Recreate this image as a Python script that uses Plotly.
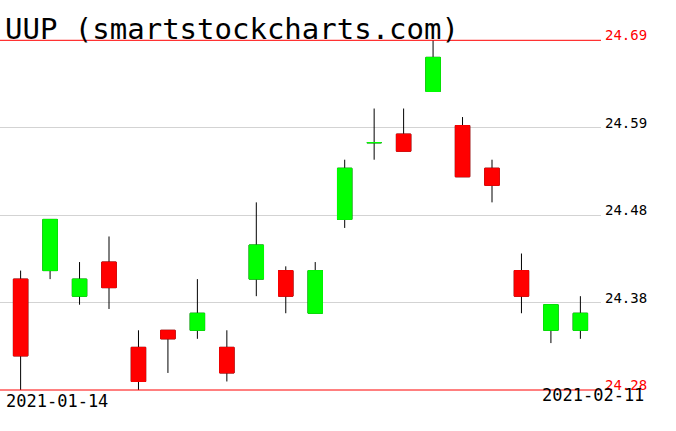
import plotly.graph_objects as go

# ---- data ----
dates = ["2021-01-14", "2021-01-15", "2021-01-19", "2021-01-20", "2021-01-21",
         "2021-01-22", "2021-01-25", "2021-01-26", "2021-01-27", "2021-01-28",
         "2021-01-29", "2021-02-01", "2021-02-02", "2021-02-03", "2021-02-04",
         "2021-02-05", "2021-02-08", "2021-02-09", "2021-02-10", "2021-02-11"]
opens = [24.41, 24.42, 24.39, 24.43, 24.33, 24.35, 24.35, 24.33, 24.41, 24.42,
         24.37, 24.48, 24.57, 24.58, 24.63, 24.59, 24.54, 24.42, 24.35, 24.35]
highs = [24.42, 24.48, 24.43, 24.46, 24.35, 24.35, 24.41, 24.35, 24.50, 24.425,
         24.43, 24.55, 24.61, 24.61, 24.69, 24.60, 24.55, 24.44, 24.38, 24.39]
lows = [24.28, 24.41, 24.38, 24.375, 24.28, 24.30, 24.34, 24.29, 24.39, 24.37,
        24.37, 24.47, 24.55, 24.56, 24.63, 24.53, 24.50, 24.37, 24.335, 24.34]
closes = [24.32, 24.48, 24.41, 24.40, 24.29, 24.34, 24.37, 24.30, 24.45, 24.39,
          24.42, 24.54, 24.57, 24.56, 24.67, 24.53, 24.52, 24.39, 24.38, 24.37]

tick_values = [24.28, 24.3825, 24.485, 24.5875, 24.69]
tick_labels = ["24.28", "24.38", "24.48", "24.59", "24.69"]
title_text = "UUP (smartstockcharts.com)"
x_labels = ["2021-01-14", "2021-02-11"]

# ---- layout geometry ----
W, H = 676, 431
L, R, T, B = 0, 75, 30, 31
PW, PH = W - L - R, H - T - B
GREEN, RED = "#00ff00", "#ff0000"
FONT = "DejaVu Sans Mono"

lo, hi = tick_values[0], tick_values[-1]
px_per_unit = 852.9
y_range = [lo - 10 / px_per_unit, hi + 10.3 / px_per_unit]


def xp(px):
    return (px - L) / PW


def yp(py):
    return (H - B - py) / PH


body_hi = [max(o, c) for o, c in zip(opens, closes)]
body_lo = [min(o, c) for o, c in zip(opens, closes)]

fig = go.Figure()
# full candles: black wicks
fig.add_trace(go.Candlestick(
    x=dates, open=opens, high=highs, low=lows, close=closes,
    increasing=dict(line=dict(color="black", width=1), fillcolor=GREEN),
    decreasing=dict(line=dict(color="black", width=1), fillcolor=RED),
    whiskerwidth=0, showlegend=False, hoverinfo="skip"))
# bodies redrawn with outline matching fill
fig.add_trace(go.Candlestick(
    x=dates, open=opens, high=body_hi, low=body_lo, close=closes,
    increasing=dict(line=dict(color=GREEN, width=1), fillcolor=GREEN),
    decreasing=dict(line=dict(color=RED, width=1), fillcolor=RED),
    whiskerwidth=0, showlegend=False, hoverinfo="skip"))

shapes = []
for v in (lo, hi):
    shapes.append(dict(type="line", xref="paper", yref="y", x0=0, x1=1,
                       y0=v, y1=v, line=dict(color=RED, width=1), layer="above"))

annotations = []
for i, (v, t) in enumerate(zip(tick_values, tick_labels)):
    col = RED if i in (0, len(tick_values) - 1) else "black"
    annotations.append(dict(text=t, xref="paper", yref="y", x=xp(603), y=v,
                            xanchor="left", yanchor="bottom", showarrow=False,
                            yshift=-5, font=dict(family=FONT, size=14, color=col)))

annotations.append(dict(text=title_text, xref="paper", yref="paper",
                        x=xp(3), y=yp(29), xanchor="left", yanchor="middle",
                        showarrow=False, font=dict(family=FONT, size=29, color="black")))
annotations.append(dict(text=x_labels[0], xref="paper", yref="paper",
                        x=xp(4), y=yp(401), xanchor="left", yanchor="middle",
                        showarrow=False, font=dict(family=FONT, size=17, color="black")))
annotations.append(dict(text=x_labels[1], xref="paper", yref="paper",
                        x=xp(646), y=yp(395), xanchor="right", yanchor="middle",
                        showarrow=False, font=dict(family=FONT, size=17, color="black")))

fig.update_layout(
    width=W, height=H,
    margin=dict(l=L, r=R, t=T, b=B, pad=0),
    paper_bgcolor="white", plot_bgcolor="white",
    showlegend=False,
    boxgap=0.3,
    xaxis=dict(type="category", range=[-0.7, len(dates) - 0.3],
               showticklabels=False, showgrid=False, zeroline=False,
               showline=False, rangeslider=dict(visible=False), fixedrange=True),
    yaxis=dict(range=y_range, tickvals=tick_values[1:-1], showticklabels=False,
               showgrid=True, gridcolor="#d3d3d3", gridwidth=1,
               zeroline=False, showline=False, fixedrange=True),
    shapes=shapes,
    annotations=annotations,
)

fig.write_html("out.html", config=dict(displayModeBar=False),
               post_script="document.body.style.margin='0';document.body.style.padding='0';")
